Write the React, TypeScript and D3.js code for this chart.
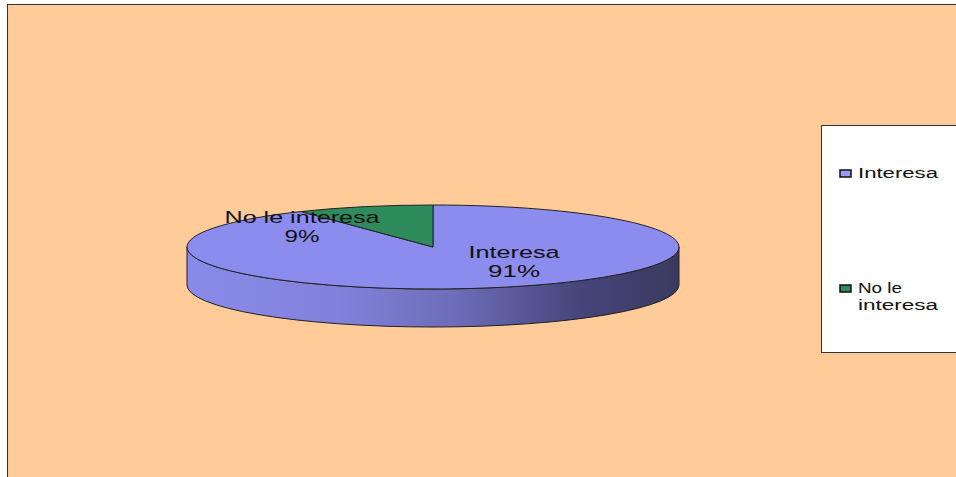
import React from "react";
import * as d3 from "d3";

const categories = ["Interesa", "No le interesa"];
const values = [91, 9];
const percentLabels = ["91%", "9%"];
const legendLines = [["Interesa"], ["No le", "interesa"]];
const colors = ["#8C8CEE", "#2E8B5C"];

const W = 956;
const H = 477;

export default function App() {
  const cx = 433;
  const cy = 247;
  const rx = 246;
  const ry = 42;
  const depth = 38;

  const pie = d3.pie<number>().sort(null).value((d) => d);
  const arcs = pie(values);
  const arc = d3.arc<d3.PieArcDatum<number>>().innerRadius(0).outerRadius(rx);

  const sidePath = `M${cx - rx},${cy} L${cx - rx},${cy + depth} A${rx},${ry} 0 0 0 ${cx + rx},${cy + depth} L${cx + rx},${cy} A${rx},${ry} 0 0 1 ${cx - rx},${cy} Z`;

  // label anchor positions (centre of two-line label)
  const labelPos = [
    { x: 514, y: 258, w1: 91, w2: 52 },
    { x: 302, y: 223, w1: 155, w2: 35 },
  ];

  const legendY = [173, 288];

  return (
    <svg
      width={W}
      height={H}
      style={{ position: "absolute", left: 0, top: 0, background: "#fff" }}
      fontFamily="'Liberation Sans', Arial, sans-serif"
    >
      <defs>
        <linearGradient id="side" x1={cx - rx} x2={cx + rx} y1={0} y2={0} gradientUnits="userSpaceOnUse">
          <stop offset="0" stopColor="#8A8AEA" />
          <stop offset="0.3" stopColor="#8282DC" />
          <stop offset="0.55" stopColor="#6C6CB8" />
          <stop offset="0.8" stopColor="#45457A" />
          <stop offset="1" stopColor="#3A3A60" />
        </linearGradient>
      </defs>
      <rect x={7.5} y={4.5} width={W} height={H} fill="#FFCC99" stroke="#333" strokeWidth={1} />

      <path d={sidePath} fill="url(#side)" stroke="#222" strokeWidth={1} />

      <g transform={`translate(${cx},${cy}) scale(1,${ry / rx})`}>
        {arcs.map((a, i) => (
          <path
            key={categories[i]}
            d={arc(a) || ""}
            fill={colors[i]}
            stroke="#222"
            strokeWidth={1}
            vectorEffect="non-scaling-stroke"
          />
        ))}
      </g>

      {arcs.map((a, i) => (
        <g key={"lbl" + i} fill="#111" fontSize={17}>
          <text
            x={labelPos[i].x - labelPos[i].w1 / 2}
            y={labelPos[i].y}
            textLength={labelPos[i].w1}
            lengthAdjust="spacingAndGlyphs"
          >
            {categories[i]}
          </text>
          <text
            x={labelPos[i].x - labelPos[i].w2 / 2}
            y={labelPos[i].y + 19}
            textLength={labelPos[i].w2}
            lengthAdjust="spacingAndGlyphs"
          >
            {percentLabels[i]}
          </text>
        </g>
      ))}

      <rect x={821.5} y={125.5} width={200} height={227} fill="#fff" stroke="#333" strokeWidth={1} />
      {categories.map((c, i) => (
        <g key={"leg" + i}>
          <rect x={840} y={legendY[i] - 3} width={11} height={7} fill={colors[i] === "#8C8CEE" ? "#9999FF" : colors[i]} stroke="#111" strokeWidth={1.5} />
          {legendLines[i].map((ln, j) => (
            <text
              key={j}
              x={858}
              y={legendY[i] + 5 + j * 17}
              fontSize={14}
              fill="#111"
              textLength={ln === "No le" ? 44 : 80}
              lengthAdjust="spacingAndGlyphs"
            >
              {ln}
            </text>
          ))}
        </g>
      ))}
    </svg>
  );
}
